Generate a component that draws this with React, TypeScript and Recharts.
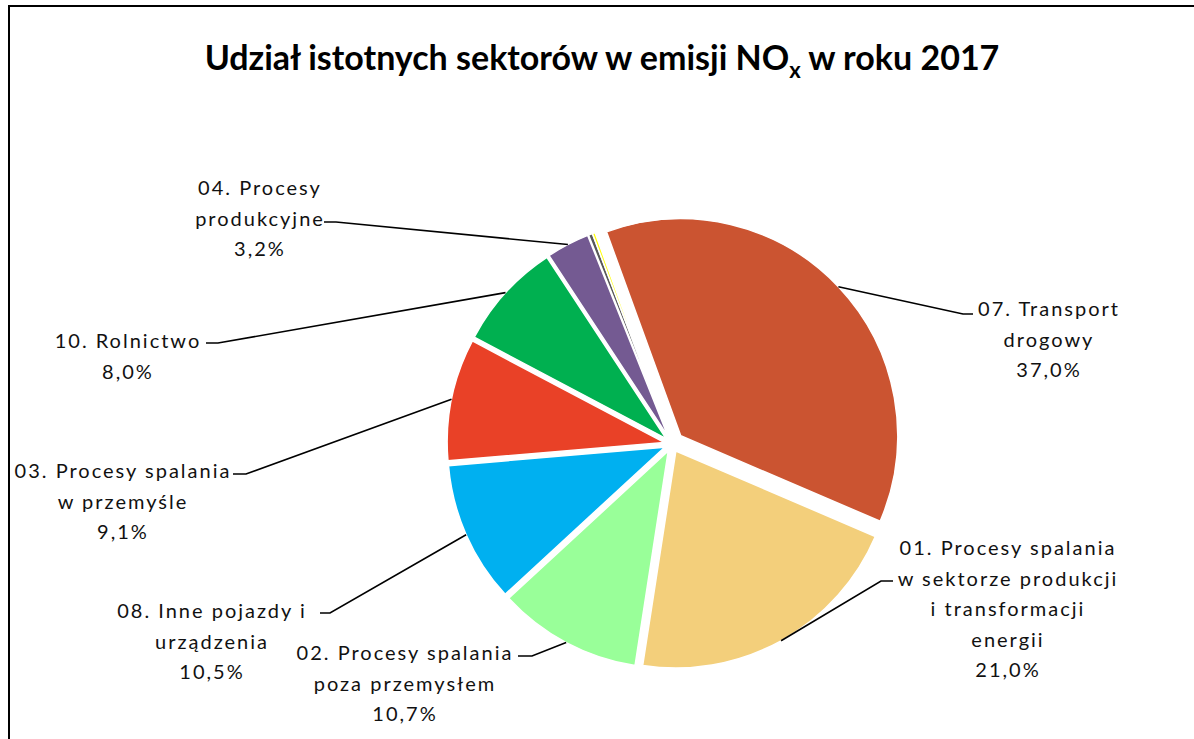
import React from 'react';
import { PieChart, Pie, Cell } from 'recharts';

// ---- data ----
const categories = [
  '07. Transport drogowy',
  '01. Procesy spalania w sektorze produkcji i transformacji energii',
  '02. Procesy spalania poza przemysłem',
  '08. Inne pojazdy i urządzenia',
  '03. Procesy spalania w przemyśle',
  '10. Rolnictwo',
  '04. Procesy produkcyjne',
  'Pozostałe A',
  'Pozostałe B',
];
const values = [37.0, 21.0, 10.7, 10.5, 9.1, 8.0, 3.2, 0.3, 0.2];
const labelLines: string[][] = [
  ['07. Transport', 'drogowy', '37,0%'],
  ['01. Procesy spalania', 'w sektorze produkcji', 'i transformacji', 'energii', '21,0%'],
  ['02. Procesy spalania', 'poza przemysłem', '10,7%'],
  ['08. Inne pojazdy i', 'urządzenia', '10,5%'],
  ['03. Procesy spalania', 'w przemyśle', '9,1%'],
  ['10. Rolnictwo', '8,0%'],
  ['04. Procesy', 'produkcyjne', '3,2%'],
  [],
  [],
];

// ---- style / layout ----
const colors = ['#CB5431', '#F3CF7B', '#99FF99', '#00B0F0', '#E94127', '#00B050', '#745A92', '#595959', '#FFFF00'];
const explode = [12, 8, 8, 8, 8, 8, 8, 8, 8];
const CX = 667;
const CY = 439;
const R = 217;
const START = 110;
const LH = 30.5;
const FONT = 'Lato, "Open Sans", sans-serif';

// text center x, first line center y, elbow point, end point of horizontal
const labelLayout: { tx: number; ty: number; elbow: [number, number]; end: [number, number] }[] = [
  { tx: 1049, ty: 308, elbow: [963, 314], end: [973, 314] },
  { tx: 1008, ty: 547, elbow: [881, 581], end: [893, 581] },
  { tx: 405, ty: 652, elbow: [532, 656], end: [518, 656] },
  { tx: 212, ty: 610, elbow: [330, 613], end: [320, 613] },
  { tx: 123, ty: 470, elbow: [246, 474], end: [233, 474] },
  { tx: 128, ty: 340, elbow: [218, 343], end: [206, 343] },
  { tx: 260, ty: 187, elbow: [336, 222], end: [324, 222] },
];

const RAD = Math.PI / 180;
const total = values.reduce((a, b) => a + b, 0);
const data = categories.map((name, i) => ({ name, value: values[i] }));

const midAngles: number[] = [];
{
  let cum = 0;
  values.forEach((v) => {
    midAngles.push(START - ((cum + v / 2) / total) * 360);
    cum += v;
  });
}

function makeLabel(i: number) {
  return (p: any) => {
    if (p.index !== i || !labelLayout[i]) return null;
    const L = labelLayout[i];
    const a = p.midAngle * RAD;
    const sx = p.cx + p.outerRadius * Math.cos(a);
    const sy = p.cy - p.outerRadius * Math.sin(a);
    return (
      <g key={`lbl-${i}`}>
        <polyline
          points={`${sx},${sy} ${L.elbow[0]},${L.elbow[1]} ${L.end[0]},${L.end[1]}`}
          stroke="#000"
          strokeWidth={1.6}
          fill="none"
        />
        <text textAnchor="middle" fontFamily={FONT} fontSize={20} fill="#111" letterSpacing={2}>
          {labelLines[i].map((l, k) => (
            <tspan key={k} x={L.tx} y={L.ty + k * LH} dominantBaseline="central">
              {l}
            </tspan>
          ))}
        </text>
      </g>
    );
  };
}

export default function App() {
  return (
    <div style={{ position: 'fixed', left: 0, top: 0, width: 1194, height: 739, overflow: 'hidden', background: '#fff' }}>
      <div
        style={{
          position: 'absolute',
          left: 8,
          top: 5,
          width: 1300,
          height: 900,
          border: '2.5px solid #000',
          boxSizing: 'border-box',
        }}
      />
      <div
        style={{
          position: 'absolute',
          left: 0,
          top: 36,
          width: 1204,
          textAlign: 'center',
          fontFamily: FONT,
          fontWeight: 700,
          fontSize: 34,
          color: '#000',
          whiteSpace: 'nowrap',
        }}
      >
        Udział istotnych sektorów w emisji NO<sub style={{ fontSize: 22 }}>x</sub> w roku 2017
      </div>
      <div style={{ position: 'absolute', left: 0, top: 0 }}>
        <PieChart width={1194} height={739}>
          {values.map((_, i) => (
            <Pie
              key={i}
              data={data}
              dataKey="value"
              nameKey="name"
              cx={CX + explode[i] * Math.cos(midAngles[i] * RAD)}
              cy={CY - explode[i] * Math.sin(midAngles[i] * RAD)}
              outerRadius={R}
              innerRadius={0}
              startAngle={START}
              endAngle={START - 360}
              isAnimationActive={false}
              label={makeLabel(i)}
              labelLine={false}
            >
              {data.map((_, j) => (
                <Cell
                  key={j}
                  fill={i === j ? colors[j] : 'transparent'}
                  stroke={i === j ? '#fff' : 'none'}
                  strokeWidth={i === j ? 1.5 : 0}
                />
              ))}
            </Pie>
          ))}
        </PieChart>
      </div>
    </div>
  );
}
